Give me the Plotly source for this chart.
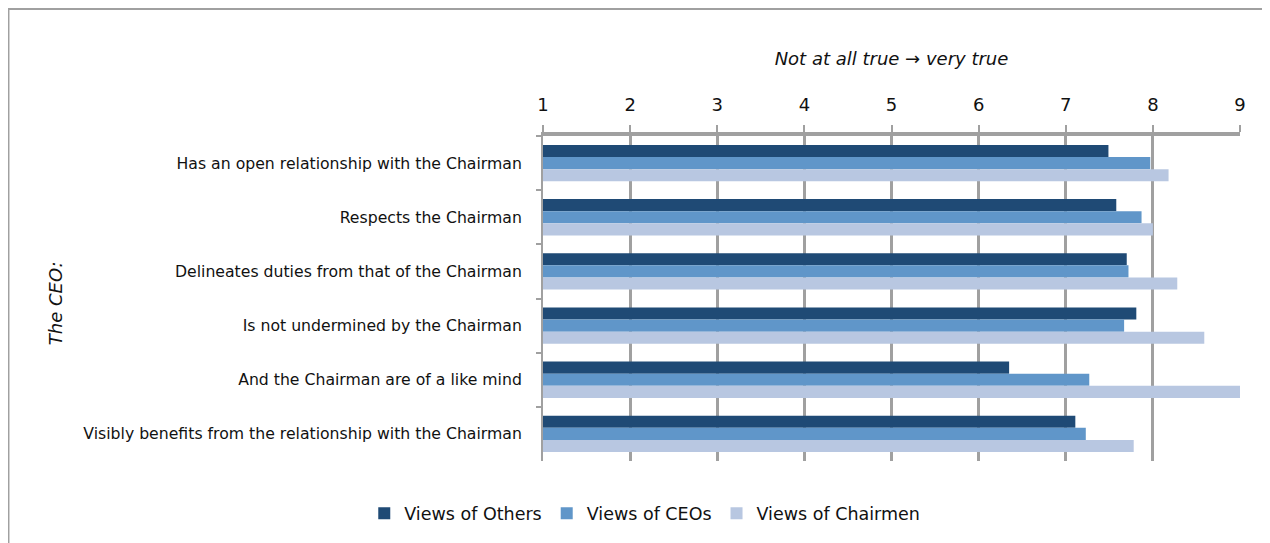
import plotly.graph_objects as go

categories = [
    "Has an open relationship with the Chairman",
    "Respects the Chairman",
    "Delineates duties from that of the Chairman",
    "Is not undermined by the Chairman",
    "And the Chairman are of a like mind",
    "Visibly benefits from the relationship with the Chairman",
]
views_others = [7.49, 7.58, 7.70, 7.81, 6.35, 7.11]
views_ceos = [7.97, 7.87, 7.72, 7.67, 7.27, 7.23]
views_chairmen = [8.18, 8.00, 8.28, 8.59, 9.00, 7.78]
tick_vals = [1, 2, 3, 4, 5, 6, 7, 8, 9]

series = [
    ("Views of Others", views_others, "#1F4A75"),
    ("Views of CEOs", views_ceos, "#6096C9"),
    ("Views of Chairmen", views_chairmen, "#B8C7E1"),
]

FONT = "DejaVu Sans"
fig = go.Figure()
for name, vals, color in series:
    fig.add_trace(go.Bar(
        y=categories, x=vals, name=name, orientation="h",
        marker=dict(color=color, line=dict(width=0)),
    ))

fig.update_layout(
    width=1262, height=535,
    margin=dict(l=535, r=30, t=128, b=82),
    paper_bgcolor="white", plot_bgcolor="white",
    barmode="group", bargap=0.33, bargroupgap=0,
    font=dict(family=FONT, size=16, color="#111111"),
    showlegend=True,
    legend=dict(orientation="h", x=0.146, xanchor="center", y=-0.106, yanchor="top",
                font=dict(size=17.5, family=FONT), traceorder="normal"),
    xaxis=dict(
        side="top", range=[1, 9], tickvals=tick_vals,
        showgrid=True, gridcolor="#A0A0A0", gridwidth=2.5,
        showline=True, linecolor="#A0A0A0", linewidth=4,
        ticks="outside", ticklen=7, tickcolor="#A0A0A0", tickwidth=2,
        tickfont=dict(size=18, family=FONT), ticklabelstandoff=7, zeroline=False,
        title=dict(text="<i>Not at all true → very true</i>", font=dict(size=18, family=FONT),
                   standoff=24),
    ),
    yaxis=dict(
        autorange="reversed", showline=True, linecolor="#A0A0A0", linewidth=2,
        ticks="outside", tickson="boundaries", ticklen=5, tickcolor="#A0A0A0", tickwidth=2,
        tickfont=dict(size=15.7, family=FONT), ticklabelstandoff=16,
        showgrid=False,
    ),
    annotations=[dict(text="<i>The CEO:</i>", xref="paper", yref="paper",
                      x=-0.70, y=0.486, textangle=-90, showarrow=False,
                      font=dict(size=18, family=FONT), xanchor="center", yanchor="middle")],
    shapes=[dict(type="rect", xref="paper", yref="paper",
                 x0=-0.7669, x1=1.1, y0=-0.4, y1=1.391,
                 line=dict(color="#A0A0A0", width=2), fillcolor="rgba(0,0,0,0)",
                 layer="below")],
)
fig.write_html("out.html")
